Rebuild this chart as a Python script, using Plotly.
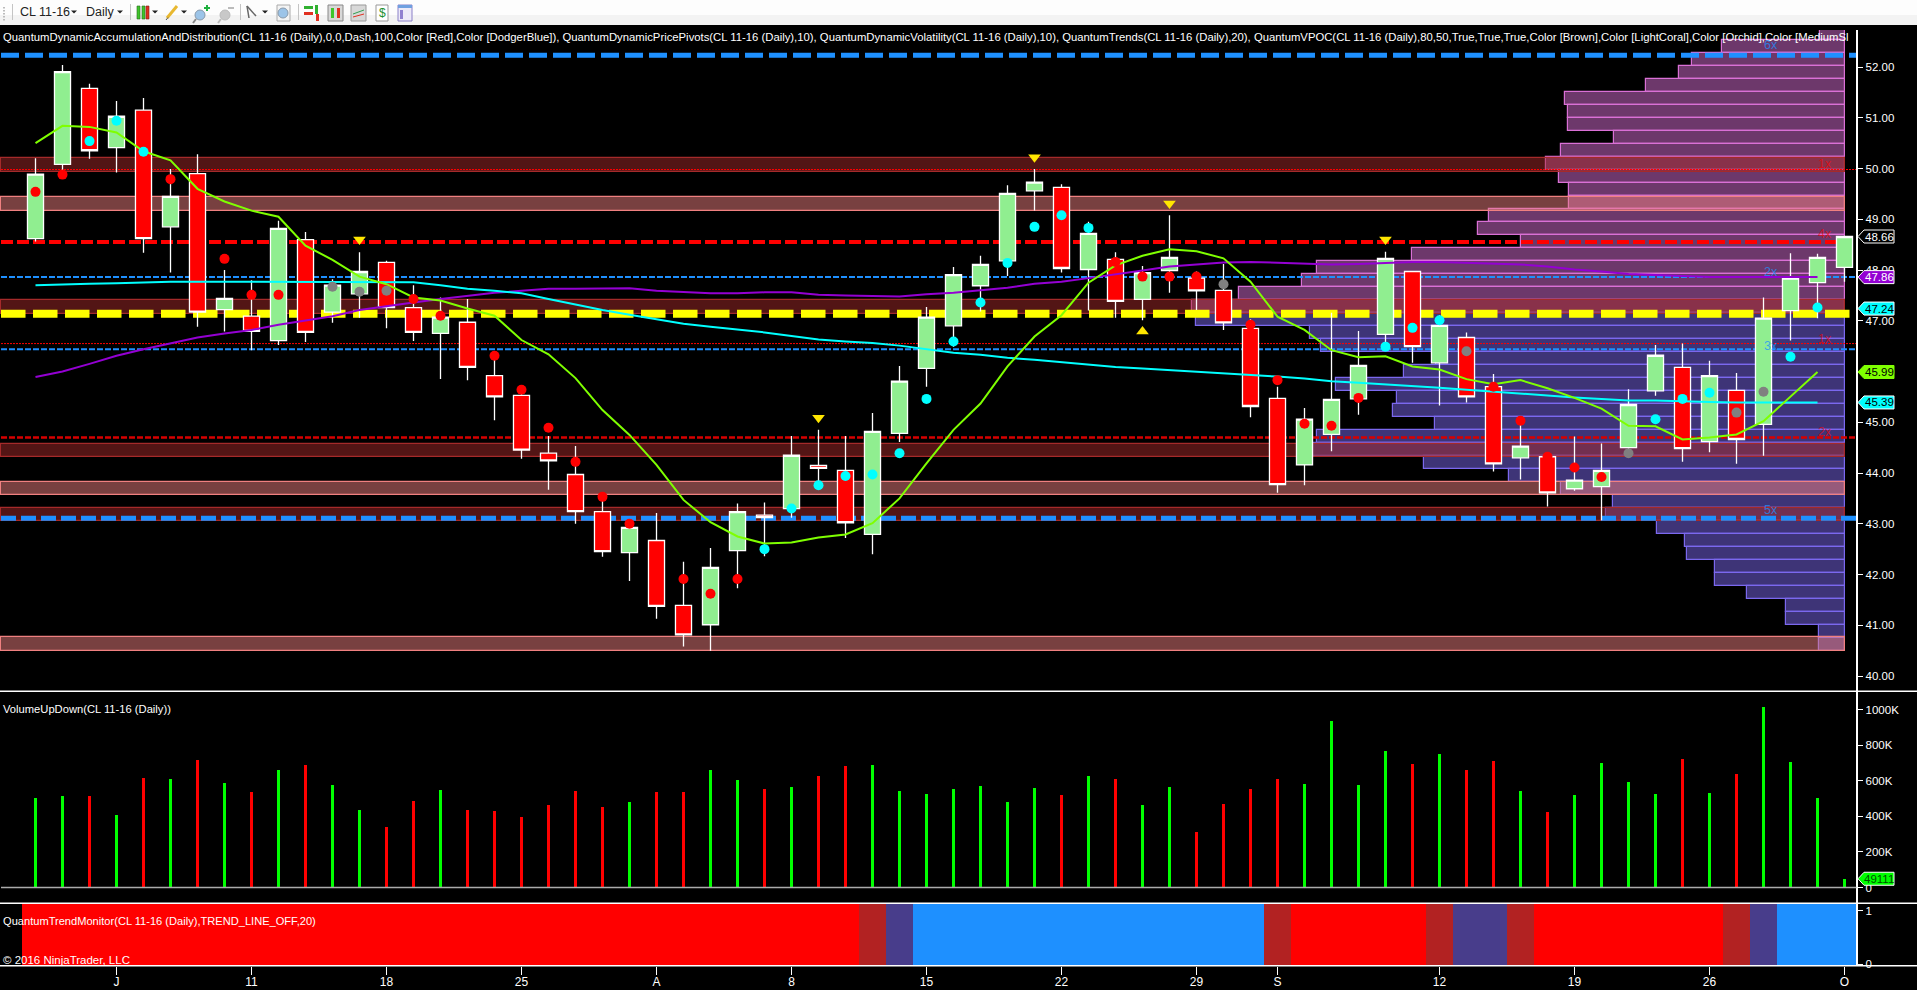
import plotly.graph_objects as go

W, H = 1917, 990

# ---------- data ----------
bars = list(range(68))
highs = [50.20,52.04,51.67,51.33,51.39,49.99,50.28,48.00,47.80,48.97,48.75,47.82,48.35,48.18,47.70,47.46,47.43,46.23,45.64,44.73,44.53,43.53,43.01,43.21,42.25,42.52,43.40,43.42,44.73,44.85,44.73,45.18,46.11,47.27,48.06,48.28,49.67,49.99,49.69,48.95,48.35,48.08,49.08,47.97,48.12,47.03,45.70,45.28,47.16,46.80,48.36,47.97,47.11,46.77,45.95,45.12,44.40,44.72,44.58,45.65,46.52,46.55,46.21,45.97,47.46,48.33,48.32,48.66]
lows = [48.56,49.97,50.19,49.92,48.34,47.95,46.88,46.79,46.42,46.52,46.58,46.96,47.06,46.85,46.60,45.85,45.83,45.04,44.28,43.67,43.00,42.35,41.87,41.13,40.58,40.50,41.73,42.36,43.12,43.73,42.72,42.40,44.61,45.70,46.49,47.18,47.88,49.17,47.95,47.20,47.06,47.01,47.55,47.21,46.82,45.10,43.61,43.76,44.43,45.15,46.42,46.17,45.33,45.39,44.03,43.87,43.34,43.65,43.07,44.39,45.52,44.22,44.41,44.18,44.34,46.61,47.05,47.77]
opens = [48.62,50.08,51.58,50.41,51.15,48.85,49.90,47.22,47.09,46.61,48.60,47.17,47.53,48.15,47.26,46.75,46.97,45.92,45.53,44.39,43.97,43.24,42.43,42.67,41.39,41.01,42.47,43.17,43.30,44.15,44.05,42.79,44.78,46.06,46.90,47.69,48.18,49.56,49.63,48.01,48.21,47.42,47.99,47.84,47.60,46.85,45.47,44.16,44.76,45.46,46.73,47.97,46.17,46.67,45.70,44.30,44.32,43.69,43.73,44.50,45.62,46.08,44.62,45.63,44.96,47.20,47.75,48.05]
closes = [49.89,51.91,50.35,51.03,48.62,49.45,47.17,47.44,46.79,48.82,46.77,47.70,47.97,47.26,46.77,47.07,46.08,45.50,44.45,44.24,43.24,42.45,42.93,41.37,40.81,42.14,43.24,43.12,44.35,44.09,43.02,44.82,45.81,47.07,47.91,48.11,49.51,49.73,48.03,48.72,47.38,47.95,48.25,47.59,46.96,45.31,43.77,45.06,45.45,46.12,48.23,46.49,46.91,45.50,44.18,44.53,43.61,43.86,44.05,45.35,46.32,44.48,45.92,44.66,47.05,47.84,48.25,48.66]

trend_green = [50.50,50.84,50.82,50.71,50.34,50.16,49.60,49.35,49.17,49.05,48.48,48.20,47.87,47.72,47.46,47.40,47.24,47.10,46.62,46.34,45.87,45.24,44.75,44.16,43.47,43.03,42.75,42.61,42.63,42.73,42.79,43.01,43.50,44.19,44.85,45.37,46.10,46.69,47.11,47.75,48.09,48.28,48.41,48.37,48.23,47.77,47.08,46.82,46.42,46.28,46.30,46.10,46.04,45.85,45.75,45.83,45.67,45.48,45.27,44.93,44.92,44.66,44.70,44.76,45.02,45.50,45.99]
trend_cyan = [47.70,47.72,47.73,47.74,47.76,47.77,47.77,47.77,47.77,47.77,47.76,47.76,47.76,47.76,47.76,47.70,47.63,47.59,47.54,47.43,47.32,47.21,47.12,47.03,46.94,46.88,46.83,46.77,46.70,46.63,46.59,46.56,46.51,46.44,46.37,46.33,46.27,46.23,46.18,46.13,46.09,46.06,46.03,46.00,45.96,45.94,45.90,45.86,45.81,45.78,45.75,45.72,45.68,45.64,45.60,45.57,45.53,45.49,45.46,45.43,45.43,45.41,45.40,45.39,45.39,45.39,45.39]
trend_purple = [45.89,46.00,46.15,46.31,46.44,46.56,46.67,46.75,46.82,46.92,47.00,47.09,47.21,47.29,47.36,47.43,47.49,47.55,47.59,47.63,47.63,47.63,47.64,47.59,47.57,47.54,47.54,47.56,47.56,47.51,47.50,47.49,47.48,47.52,47.55,47.60,47.65,47.73,47.77,47.84,47.91,47.99,48.07,48.11,48.15,48.16,48.14,48.12,48.11,48.12,48.14,48.16,48.16,48.14,48.13,48.11,48.07,48.01,47.97,47.92,47.90,47.88,47.86,47.86,47.86,47.86,47.86]

red_dot_bars = [0,1,5,7,8,9,14,15,17,18,19,20,21,22,24,25,26,40,41,42,43,45,46,47,48,49,54,55,56,57,58]
red_dot_prices = [49.54,49.88,49.79,48.22,47.51,47.51,47.43,47.10,46.31,45.64,44.89,44.22,43.53,43.00,41.91,41.62,41.91,48.16,47.87,47.87,47.87,46.92,45.83,44.97,44.93,45.48,45.70,45.03,44.32,44.11,43.92]
cyan_dot_bars = [2,3,4,27,28,29,30,31,32,33,34,35,36,37,38,39,50,51,52,60,61,62,65,66]
cyan_dot_prices = [50.54,50.94,50.33,42.50,43.30,43.76,43.94,43.97,44.39,45.46,46.59,47.36,48.14,48.85,49.08,48.83,46.49,46.86,47.01,45.06,45.46,45.58,46.29,47.26]
gray_dot_bars = [11,12,13,44,53,59,63,64]
gray_dot_prices = [47.67,47.57,47.59,47.72,46.40,44.39,45.19,45.60]

tri_down_bars = [12,29,37,42,50]
tri_down_prices = [48.60,45.09,50.22,49.31,48.60]
tri_up_bars = [41]
tri_up_prices = [46.79]

volume = [502,513,513,406,614,609,716,586,536,659,687,575,435,339,485,547,435,429,395,463,541,451,479,536,536,659,603,553,564,626,682,687,541,524,553,569,479,558,519,626,609,463,564,311,468,553,609,581,935,575,766,693,749,659,710,541,423,519,699,592,524,721,530,637,1013,704,502,49.111]
volume_up = [1,1,0,1,0,1,0,1,0,1,0,1,1,0,0,1,0,0,0,0,0,0,1,0,0,1,1,0,1,0,0,1,1,1,1,1,1,1,0,1,0,1,1,0,0,0,0,1,1,1,1,0,1,0,0,1,0,1,1,1,1,0,1,0,1,1,1,1]

# 0 red, 1 firebrick, 2 slate, 3 blue
trend_state = [0]*31 + [1,2] + [3]*13 + [1] + [0]*5 + [1,2,2,1] + [0]*7 + [1,2,3,3,3]

profile_prices = [52.66,52.40,52.15,51.89,51.63,51.38,51.12,50.87,50.61,50.35,50.10,49.84,49.59,49.33,49.07,48.82,48.56,48.30,48.05,47.79,47.54,47.28,47.02,46.77,46.51,46.26,46.00,45.74,45.49,45.23,44.98,44.72,44.46,44.21,43.95,43.70,43.44,43.18,42.93,42.67,42.42,42.16,41.91,41.65,41.39,41.14,40.88,40.63]
profile_volume = [25,123,153,166,199,280,277,277,231,284,299,286,276,276,356,367,324,433,528,543,606,653,649,535,524,409,441,509,448,452,410,528,532,421,336,284,232,239,188,160,158,130,130,98,59,59,26,26]

brown_zones = [(49.94,50.20),(47.14,47.41),(44.32,44.58),(43.06,43.32)]
coral_zones = [(49.17,49.43),(43.56,43.82),(40.50,40.76)]

price_ticks = [40,41,42,43,44,45,46,47,48,49,50,51,52]
volume_ticks = [0,200,400,600,800,1000]
volume_tick_labels = ["0","200K","400K","600K","800K","1000K"]
date_bars = [3,8,13,18,23,28,33,38,43,46,52,57,62,67]
date_labels = ["J","11","18","25","A","8","15","22","29","S","12","19","26","O"]

x6_labels = [("6x",52.43,"b"),("1x",50.09,"r"),("4x",48.70,"r"),("2x",47.97,"b"),("1x",46.65,"r"),("3x",46.50,"b"),("2x",44.81,"r"),("5x",43.28,"b")]

header = ("QuantumDynamicAccumulationAndDistribution(CL 11-16 (Daily),0,0,Dash,100,Color [Red],Color [DodgerBlue]), "
          "QuantumDynamicPricePivots(CL 11-16 (Daily),10), QuantumDynamicVolatility(CL 11-16 (Daily),10), "
          "QuantumTrends(CL 11-16 (Daily),20), QuantumVPOC(CL 11-16 (Daily),80,50,True,True,True,Color [Brown],"
          "Color [LightCoral],Color [Orchid],Color [MediumSl")

# ---------- page geometry ----------
FONT = "Liberation Sans"
AXIS_X = 1856.5
PROFILE_RIGHT = 1844.7
BAR0_X, BAR_STEP = 35.5, 27.0
index_range = [-BAR0_X/BAR_STEP, (W-BAR0_X)/BAR_STEP]
px = lambda v: v/W
py = lambda v: 1-v/H
price_top = 52+(67-30)/50.75
price_bottom = 52-(691-67)/50.75
PRICE_PX = 50.75
VOL_PX = 35.6/200

fig = go.Figure()

# ---------- volume profile and zones (bottom layer) ----------
profile_fill = ["rgba(218,112,214,0.5)" if p > 47.15 else "rgba(123,104,238,0.5)" for p in profile_prices]
profile_edge = ["#DA70D6" if p > 47.15 else "#7B68EE" for p in profile_prices]
fig.add_trace(go.Bar(orientation="h", x=profile_volume, y=profile_prices, width=0.2555,
                     marker=dict(color=profile_fill, line=dict(color=profile_edge, width=1.2)),
                     xaxis="x", yaxis="y", hoverinfo="skip", showlegend=False))
for zones, fill, edge in ((brown_zones, "rgba(165,42,42,0.5)", "#A52A2A"),
                          (coral_zones, "rgba(240,128,128,0.5)", "#F08080")):
    fig.add_trace(go.Bar(orientation="h", x=[PROFILE_RIGHT-1]*len(zones),
                         y=[(a+b)/2 for a, b in zones], width=[b-a for a, b in zones],
                         marker=dict(color=fill, line=dict(color=edge, width=1.2)),
                         xaxis="x", yaxis="y", hoverinfo="skip", showlegend=False))

# ---------- level lines ----------
line_left, line_right = PROFILE_RIGHT-1, PROFILE_RIGHT-AXIS_X
for level, color, width, dash in (
        (52.23, "#1E90FF", 5, "18px,6px"),
        (43.11, "#1E90FF", 5, "15px,5px"),
        (48.55, "#FF0000", 4, "12px,4px"),
        (44.70, "#D80000", 2.5, "6px,2px"),
        (47.86, "#1E90FF", 2, "6px,2px"),
        (46.44, "#1E90FF", 2, "6px,2px"),
        (49.98, "#FF0000", 1, "2px,1px"),
        (46.55, "#FF0000", 1, "2px,1px"),
        (47.14, "#FFFF00", 8, "24.5px,7.5px")):
    fig.add_trace(go.Scatter(x=[line_left, line_right], y=[level, level], mode="lines",
                             line=dict(color=color, width=width, dash=dash),
                             xaxis="x", yaxis="y", hoverinfo="skip", showlegend=False))

# ---------- candles, indicators ----------
fig.add_trace(go.Candlestick(x=bars, open=opens, high=highs, low=lows, close=closes,
                             increasing=dict(fillcolor="#90EE90", line=dict(color="#FFFFFF", width=1.3)),
                             decreasing=dict(fillcolor="#FF0000", line=dict(color="#FFFFFF", width=1.3)),
                             whiskerwidth=0, xaxis="x2", yaxis="y", hoverinfo="skip", showlegend=False))
for series, color in ((trend_purple, "#9400D3"), (trend_cyan, "#00FFFF"), (trend_green, "#7FFF00")):
    fig.add_trace(go.Scatter(x=bars[:len(series)], y=series, mode="lines", line=dict(color=color, width=2),
                             xaxis="x2", yaxis="y", hoverinfo="skip", showlegend=False))
for xs, ys, color in ((red_dot_bars, red_dot_prices, "#FF0000"),
                      (cyan_dot_bars, cyan_dot_prices, "#00FFFF"),
                      (gray_dot_bars, gray_dot_prices, "#808080")):
    fig.add_trace(go.Scatter(x=xs, y=ys, mode="markers", marker=dict(color=color, size=10),
                             xaxis="x2", yaxis="y", hoverinfo="skip", showlegend=False))
for xs, ys, sym in ((tri_down_bars, tri_down_prices, "triangle-down"), (tri_up_bars, tri_up_prices, "triangle-up")):
    fig.add_trace(go.Scatter(x=xs, y=ys, mode="markers", marker=dict(color="#FFE600", size=11, symbol=sym),
                             xaxis="x2", yaxis="y", hoverinfo="skip", showlegend=False))

# ---------- volume ----------
fig.add_trace(go.Bar(x=bars, y=volume, width=0.085,
                     marker=dict(color=["#00FF00" if u else "#FF0000" for u in volume_up], line=dict(width=0)),
                     xaxis="x3", yaxis="y2", hoverinfo="skip", showlegend=False))

# ---------- trend monitor ----------
state_colors = ["#FF0000", "#B22222", "#483D8B", "#1E90FF"]
fig.add_trace(go.Bar(x=bars, y=[1.2]*len(bars), base=-0.02, width=1,
                     marker=dict(color=[state_colors[s] for s in trend_state], line=dict(width=0)),
                     xaxis="x4", yaxis="y3", hoverinfo="skip", showlegend=False))

# ---------- chrome shapes ----------
shapes, annos = [], []

def rect(x0, y0, x1, y1, fill, line=None, lw=1):
    shapes.append(dict(type="rect", xref="paper", yref="paper", x0=px(x0), x1=px(x1), y0=py(y0), y1=py(y1),
                       fillcolor=fill, line=dict(color=line or fill, width=lw if line else 0)))

def seg(x0, y0, x1, y1, color, lw=1):
    shapes.append(dict(type="line", xref="paper", yref="paper", x0=px(x0), x1=px(x1), y0=py(y0), y1=py(y1),
                       line=dict(color=color, width=lw)))

def circ(x0, y0, x1, y1, fill, line):
    shapes.append(dict(type="circle", xref="paper", yref="paper", x0=px(x0), x1=px(x1), y0=py(y0), y1=py(y1),
                       fillcolor=fill, line=dict(color=line, width=1)))

def tri(cx, cy):
    shapes.append(dict(type="path", xref="paper", yref="paper", fillcolor="#222222", line=dict(width=0),
                       path=f"M {px(cx-3)} {py(cy-1.5)} L {px(cx+3)} {py(cy-1.5)} L {px(cx)} {py(cy+1.5)} Z"))

def text(x, y, s, color="#FFFFFF", size=11.5, anchor="left", yref="paper"):
    annos.append(dict(xref="paper", yref=yref, x=px(x), y=py(y) if yref == "paper" else y, text=s, showarrow=False,
                      xanchor=anchor, yanchor="middle", font=dict(family=FONT, size=size, color=color),
                      borderpad=0, borderwidth=0))

# panel separators
for yy in (691.3, 903.3, 965.7):
    seg(0, yy, W, yy, "#FFFFFF", 1.5)

# volume zero line
shapes.append(dict(type="line", xref="paper", yref="y2", x0=px(1), x1=px(AXIS_X), y0=0, y1=0,
                   line=dict(color="#AAAAAA", width=1.5)))

# toolbar
rect(0, 0, W, 15, "#FDFDFD")
rect(0, 15, W, 25, "#F3F3F3")
for yy in (7, 10, 13, 16, 19):
    rect(3, yy, 5, yy+1.5, "#BBBBBB")
for xx in (12.5, 130.5, 240.5, 298.5):
    seg(xx, 4, xx, 20, "#C4C4C4", 1)
text(20, 12, "CL 11-16", "#222222", 12.5)
text(86, 12, "Daily", "#222222", 12.5)
for xx in (74, 120, 155, 184, 265):
    tri(xx, 12)
for x0, c in ((137, "#3FC52B"), (142, "#3FC52B"), (146, "#E03020")):
    rect(x0, 6, x0+3, 19, c, "#2A6A20" if c != "#E03020" else "#802018", 0.6)
seg(167, 18, 177, 6, "#E8B830", 3)
seg(166, 20, 168, 17.5, "#555555", 1)
circ(195, 10, 205, 20, "#9CC4E8", "#8899AA")
seg(196, 19, 193, 23, "#888888", 2)
seg(204, 8, 210, 8, "#20B040", 2)
seg(207, 5, 207, 11, "#20B040", 2)
circ(220, 10, 230, 20, "#C8C8C8", "#BBBBBB")
seg(221, 19, 218, 23, "#BBBBBB", 2)
seg(228, 8, 234, 8, "#BBBBBB", 2)
seg(247, 6, 256, 16, "#666666", 1.5)
seg(247, 6, 249, 18, "#666666", 1.5)
rect(277, 5, 290, 21, "#F4F4F4", "#AAAAAA", 1)
circ(278, 8, 288, 18, "#9CC4E8", "#8899AA")
rect(304, 6, 313, 9, "#30B030")
rect(304, 12, 313, 15, "#E03020")
rect(315, 5, 318, 14, "#30B030")
rect(316, 14, 319, 21, "#E03020")
rect(328, 5, 343, 21, "#D8D8D8", "#888888", 1)
rect(331, 8, 334, 18, "#3FC52B")
rect(337, 8, 340, 18, "#E03020")
rect(351, 5, 366, 21, "#D8D8D8", "#999999", 1)
seg(353, 14, 364, 10, "#30A050", 1)
seg(353, 17, 364, 14, "#E03020", 1)
rect(376, 5, 388, 21, "#FFFFFF", "#999999", 1)
text(382, 13, "$", "#1E9030", 12, anchor="center")
rect(398, 5, 412, 21, "#EDEAF8", "#8A80C8", 1)
rect(398, 5, 412, 8, "#70A0E0")
rect(400, 10, 403, 19, "#9080D0")

# on-chart text
text(3, 37, header, size=11.3)
text(3, 709, "VolumeUpDown(CL 11-16 (Daily))", size=11.2)
text(3, 921, "QuantumTrendMonitor(CL 11-16 (Daily),TREND_LINE_OFF,20)", size=11.1)
text(3, 960, "© 2016 NinjaTrader, LLC", size=11.5)

# multiplier labels on the profile
for lab, price, kind in x6_labels:
    col = "rgba(30,144,255,0.75)" if kind == "b" else "rgba(255,0,0,0.65)"
    text(1771 if kind == "b" else 1825, price, lab, col, 12.5, anchor="center", yref="y")

# price flags
def flag(value, label, fill, edge, txt, yref, half):
    xs = [1858, 1864, 1894, 1894, 1864]
    ys = [value, value+half, value+half, value-half, value-half]
    path = "M " + " L ".join(f"{px(a)} {b}" for a, b in zip(xs, ys)) + " Z"
    shapes.append(dict(type="path", xref="paper", yref=yref, path=path, fillcolor=fill, line=dict(color=edge, width=1)))
    text(1879, value, label, txt, 11.5, anchor="center", yref=yref)

half_p = 6.5/PRICE_PX
flag(48.66, "48.66", "#000000", "#FFFFFF", "#FFFFFF", "y", half_p)
flag(47.86, "47.86", "#9400D3", "#FFFFFF", "#FFFFFF", "y", half_p)
flag(47.24, "47.24", "#00FFFF", "#FFFFFF", "#000000", "y", half_p)
flag(45.99, "45.99", "#7FFF00", "#7FFF00", "#000000", "y", half_p)
flag(45.39, "45.39", "#00FFFF", "#FFFFFF", "#000000", "y", half_p)
flag(49.111, "49111", "#00FF00", "#FFFFFF", "#005000", "y2", 6.5/VOL_PX)

# ---------- layout ----------
hidden = dict(visible=False, showgrid=False, zeroline=False)
y_common = dict(side="right", anchor="free", position=px(AXIS_X), showgrid=False, zeroline=False,
                showline=True, linecolor="#FFFFFF", linewidth=1.5, ticks="outside", ticklen=6,
                tickcolor="#FFFFFF", tickfont=dict(family=FONT, size=11.5, color="#FFFFFF"))
fig.update_layout(
    width=W, height=H, margin=dict(l=0, r=0, t=0, b=0, pad=0, autoexpand=False), autosize=False,
    paper_bgcolor="#000000", plot_bgcolor="#000000", barmode="overlay", bargap=0,
    boxgap=0.15, showlegend=False, shapes=shapes, annotations=annos,
    xaxis=dict(range=[PROFILE_RIGHT, PROFILE_RIGHT-W], domain=[0, 1], anchor="y", **hidden),
    xaxis2=dict(range=index_range, domain=[0, 1], overlaying="x", anchor="y", rangeslider=dict(visible=False), **hidden),
    xaxis3=dict(range=index_range, domain=[0, 1], anchor="y2", **hidden),
    xaxis4=dict(range=index_range, domain=[0, 1], anchor="y3", showgrid=False, zeroline=False, showline=False,
                ticks="outside", ticklen=8, tickcolor="#FFFFFF", tickmode="array", tickvals=date_bars,
                ticklabelstandoff=-3, ticktext=date_labels, tickfont=dict(family=FONT, size=12, color="#FFFFFF")),
    yaxis=dict(domain=[py(691), py(30)], range=[price_bottom, price_top], tickmode="array",
               tickvals=price_ticks, ticktext=[f"{t:.2f}" for t in price_ticks], **y_common),
    yaxis2=dict(domain=[py(903), py(691)], range=[-(903-887.5)/VOL_PX, (887.5-691)/VOL_PX], tickmode="array",
                tickvals=volume_ticks, ticktext=volume_tick_labels, **y_common),
    yaxis3=dict(domain=[py(966), py(903)], range=[-(966-964)/53.3, 1+(910.7-903)/53.3], tickmode="array",
                tickvals=[0, 1], ticktext=["0", "1"], **y_common),
)

fig.write_html("out.html", config=dict(displayModeBar=False, responsive=False),
               post_script="document.body.style.margin='0';document.body.style.overflow='hidden';")
